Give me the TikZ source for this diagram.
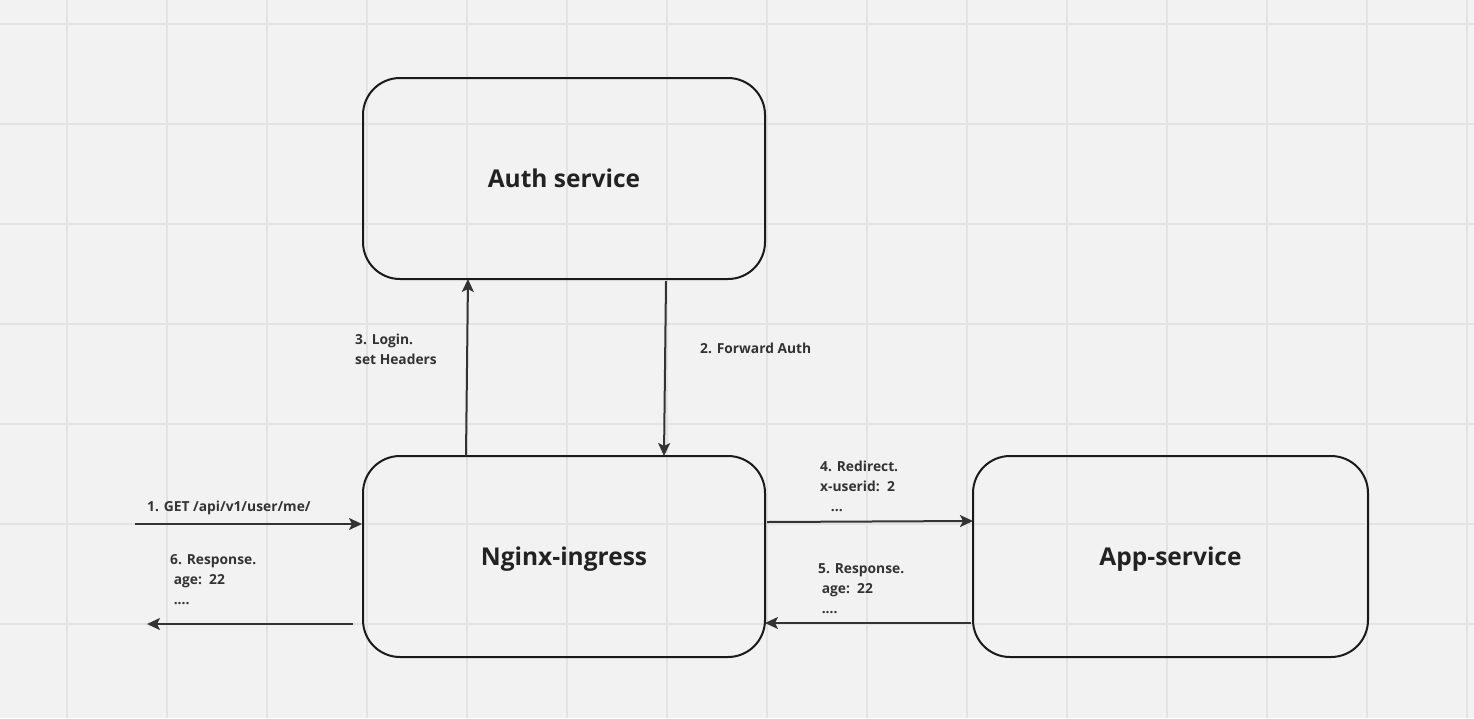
\documentclass[tikz,border=0pt]{standalone}
\usepackage{fontspec}
\setmainfont{Open Sans}
\usetikzlibrary{arrows.meta}
\definecolor{bgc}{HTML}{F2F2F2}
\definecolor{gridc}{HTML}{E3E3E3}
\definecolor{linec}{HTML}{1A1A1A}
\definecolor{arrc}{HTML}{333333}
\definecolor{txtc}{HTML}{222222}
\tikzset{
  svcbox/.style={draw=linec, line width=2pt, rounded corners=37pt, minimum height=201pt, inner sep=0pt,
    text height=17.5pt, text depth=0pt,
    font=\fontsize{24.5}{28}\selectfont\bfseries, text=txtc},
  flow/.style={draw=arrc, line width=2pt, -{Stealth[length=13pt,width=12pt,inset=3pt]}},
  lbl/.style={anchor=base west, inner sep=0pt, align=left, text=arrc,
    font=\fontsize{13.8}{20}\selectfont\bfseries}
}
\begin{document}
\begin{tikzpicture}[x=1pt,y=-1pt]
\useasboundingbox (0,0) rectangle (1474,718);
\fill[bgc] (0,0) rectangle (1474,718);
\foreach \gx in {67,167,...,1467} \draw[gridc, line width=1.5pt] (\gx,0) -- (\gx,718);
\foreach \gy in {24,124,...,624} \draw[gridc, line width=1.5pt] (0,\gy) -- (1474,\gy);

\node[svcbox, minimum width=402pt] (auth) at (564,178.5) {Auth service};
\node[svcbox, minimum width=402pt] (nginx) at (564,556.5) {Nginx-ingress};
\node[svcbox, minimum width=395pt] (app) at (1170.5,556.5) {App-service};

\coordinate (c1s) at (135,524);
\coordinate (c6s) at (353,624);
\coordinate (c6e) at (147,624);
\coordinate (c3s) at (466,456);
\coordinate (c3e) at (468,279);
\coordinate (c2s) at (666,281);
\coordinate (c2e) at (664,456);
\coordinate (c4s) at (767,522);
\coordinate (c4e) at (973,521);
\coordinate (c5s) at (971,623);
\coordinate (c5e) at (765,623);

\draw[flow] (c1s) -- (c1s -| nginx.west);
\draw[flow] (c6s) -- (c6e);
\draw[flow] (c3s) -- (c3e);
\draw[flow] (c2s) -- (c2e);
\draw[flow] (c4s) -- (c4e);
\draw[flow] (c5s) -- (c5e);

\node[lbl] (l1) at (147,511) {1. GET /api/v1/user/me/};
\node[lbl] (l6) at (170,604) {6. Response.\\ \ age:\ \ 22\\ \ ....};
\node[lbl] (l3) at (355,364) {3. Login.\\set Headers};
\node[lbl] (l2) at (700,353) {2. Forward Auth};
\node[lbl] (l4) at (820,511) {4. Redirect.\\x-userid:\ \ 2\\\ \ \ ...};
\node[lbl] (l5) at (818,613) {5. Response.\\ \ age:\ \ 22\\ \ ....};
\end{tikzpicture}
\end{document}
